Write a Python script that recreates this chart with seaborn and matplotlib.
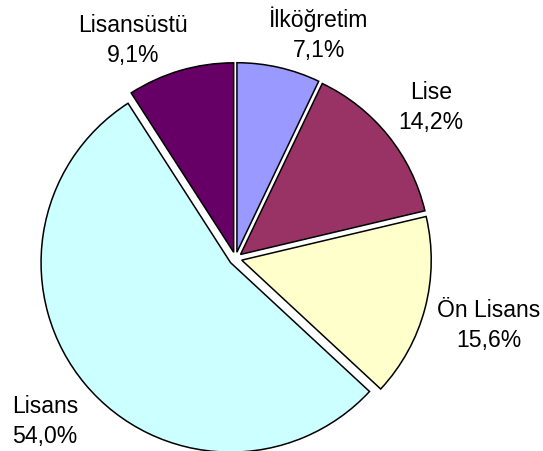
import matplotlib
matplotlib.use("Agg")
import matplotlib.pyplot as plt
import seaborn as sns

# egitim durumu dagilimi (%)
categories = ["İlköğretim", "Lise", "Ön Lisans", "Lisans", "Lisansüstü"]
values = [7.1, 14.2, 15.6, 54.0, 9.1]
colors = ["#9999FF", "#993366", "#FFFFCC", "#CCFFFF", "#660066"]

# label placement in pixels (center x, first-line baseline y)
label_px = [319, 431, 489, 45, 133]
label_py = [27, 99, 317, 413, 32]

sns.set_theme(style="white")
plt.rcParams["font.family"] = ["Liberation Sans", "DejaVu Sans"]

W, H = 543, 452
cx, cy, r = 235.5, 259.5, 189.5

fig = plt.figure(figsize=(W / 100, H / 100), dpi=100)
ax = fig.add_axes([0, 0, 1, 1])
ax.pie(values, colors=colors, startangle=90, counterclock=False,
       explode=[0.034] * len(values),
       wedgeprops=dict(edgecolor="black", linewidth=1.1))
ax.set_xlim(-cx / r, (W - cx) / r)
ax.set_ylim(-(H - cy) / r, cy / r)
ax.set_aspect("equal")
ax.axis("off")

fs = 23 * 72 / 100
for name, v, px, py in zip(categories, values, label_px, label_py):
    pct = f"{v:.1f}".replace(".", ",") + "%"
    fig.text(px / W, 1 - py / H, name, ha="center", va="baseline",
             fontsize=fs, color="black")
    fig.text(px / W, 1 - (py + 30) / H, pct, ha="center", va="baseline",
             fontsize=fs, color="black")

fig.savefig("out.png", dpi=100)
